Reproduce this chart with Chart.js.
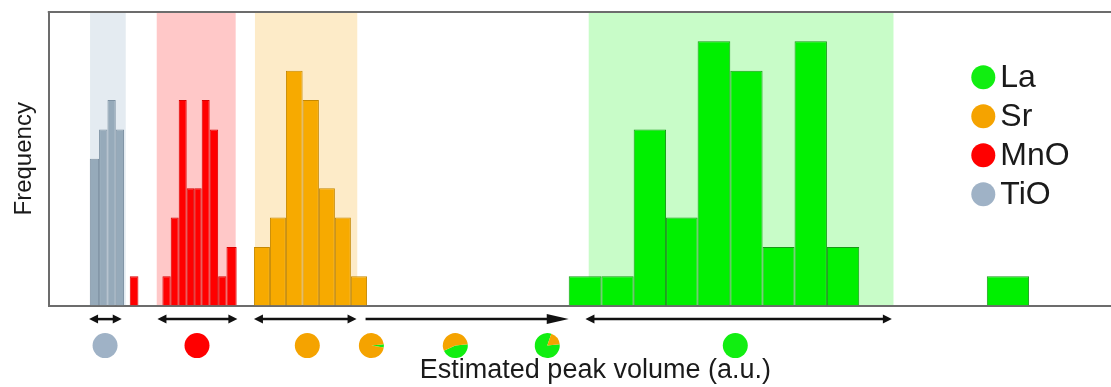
<!DOCTYPE html>
<html>
<head>
<meta charset="utf-8">
<script src="https://cdn.jsdelivr.net/npm/chart.js@4.4.1/dist/chart.umd.min.js"></script>
<style>
  html, body { margin: 0; padding: 0; background: #fff; overflow: hidden; }
  #wrap { width: 1142px; height: 387px; }
</style>
</head>
<body>
<div id="wrap"><canvas id="chart"></canvas></div>
<script>
// histogram bins: edges in a.u. of estimated peak volume, counts per bin
const species = ["TiO", "MnO", "Sr", "La"];
const tioEdges = [4.10, 5.03, 5.87, 6.70, 7.53];
const tioCounts = [5, 6, 7, 6];
const mnoEdges = [8.10, 8.97, 11.37, 12.20, 13.00, 13.80, 14.55, 15.30, 16.10, 16.95, 17.78, 18.80];
const mnoCounts = [1, 0, 1, 3, 7, 4, 4, 7, 6, 1, 2];
const srEdges = [20.53, 22.13, 23.73, 25.40, 27.03, 28.63, 30.23, 31.85];
const srCounts = [2, 3, 8, 7, 4, 3, 1];
const laEdges = [52.03, 55.30, 58.53, 61.77, 64.93, 68.20, 71.43, 74.63, 77.87, 81.10, 93.87, 98.10];
const laCounts = [1, 1, 6, 3, 9, 8, 2, 9, 2, 0, 1];

// shaded ranges (one per species) and arrows under the axis
const bandStart = [4.13, 10.80, 20.63, 54.03];
const bandEnd = [7.70, 18.70, 30.87, 84.53];
const arrowStart = [4.03, 10.87, 20.53, 31.70, 53.70];
const arrowEnd = [7.30, 18.87, 30.80, 52.03, 84.37];
const arrowBothEnds = [true, true, true, false, true];

// composition pies under the axis
const pieAt = [5.63, 14.83, 25.87, 32.28, 40.68, 49.88, 68.70];
const pieTiO = [1, 0, 0, 0, 0, 0, 0];
const pieMnO = [0, 1, 0, 0, 0, 0, 0];
const pieSr = [0, 0, 1, 0.96, 0.55, 0.18, 0];
const pieLa = [0, 0, 0, 0.04, 0.45, 0.82, 1];

const FONT = "'Liberation Sans', Arial, Helvetica, sans-serif";
const TEXT = "#1a1a1a";
const FRAME = "#6c6c6c";
const fills = { TiO: "#96aaba", MnO: "#ff0000", Sr: "#f7aa00", La: "#00f000" };
const borders = { TiO: "#7d91a2", MnO: "#d80000", Sr: "#c58800", La: "#169a16" };
const bandColors = ["#e4ebf1", "#ffc8c8", "#fdebc8", "#c8fcc8"];
const dotColors = { TiO: "#9fb2c6", MnO: "#ff0000", Sr: "#f5a300", La: "#11ee11" };

function bins(edges, counts) {
  const out = [];
  counts.forEach((c, i) => {
    if (c > 0) out.push({ x: (edges[i] + edges[i + 1]) / 2, y: c, x0: edges[i], x1: edges[i + 1] });
  });
  return out;
}

const series = {
  TiO: bins(tioEdges, tioCounts),
  MnO: bins(mnoEdges, mnoCounts),
  Sr: bins(srEdges, srCounts),
  La: bins(laEdges, laCounts),
};

// bars span their own bin edges on the linear x scale
const binWidths = {
  id: "binWidths",
  afterDatasetsUpdate(chart) {
    const x = chart.scales.x;
    chart.data.datasets.forEach((ds, d) => {
      chart.getDatasetMeta(d).data.forEach((bar, i) => {
        const bin = ds.data[i];
        const left = x.getPixelForValue(bin.x0);
        const right = x.getPixelForValue(bin.x1);
        bar.x = (left + right) / 2;
        bar.width = right - left;
      });
    });
  },
};

const bands = {
  id: "bands",
  beforeDraw(chart) {
    const { ctx, chartArea } = chart;
    const x = chart.scales.x;
    ctx.save();
    bandStart.forEach((s, i) => {
      const l = x.getPixelForValue(s);
      const r = x.getPixelForValue(bandEnd[i]);
      ctx.fillStyle = bandColors[i];
      ctx.fillRect(l, chartArea.top, r - l, chartArea.bottom - chartArea.top);
    });
    ctx.restore();
  },
};

function head(ctx, tipX, y, dir, len, half) {
  ctx.beginPath();
  ctx.moveTo(tipX, y);
  ctx.lineTo(tipX - dir * len, y - half);
  ctx.lineTo(tipX - dir * len, y + half);
  ctx.closePath();
  ctx.fill();
}

const annotations = {
  id: "annotations",
  afterDraw(chart) {
    const { ctx, chartArea } = chart;
    const x = chart.scales.x;
    ctx.save();

    // top frame line
    ctx.strokeStyle = FRAME;
    ctx.lineWidth = 2;
    ctx.beginPath();
    ctx.moveTo(chartArea.left - 1, chartArea.top);
    ctx.lineTo(chartArea.right, chartArea.top);
    ctx.stroke();

    // arrows
    const ay = chartArea.bottom + 13.5;
    ctx.strokeStyle = "#111";
    ctx.fillStyle = "#111";
    ctx.lineWidth = 2.5;
    arrowStart.forEach((s, i) => {
      const a = x.getPixelForValue(s);
      const b = x.getPixelForValue(arrowEnd[i]);
      const both = arrowBothEnds[i];
      const len = both ? 9 : 22;
      const half = both ? 4.5 : 5;
      ctx.beginPath();
      ctx.moveTo(both ? a + len - 1 : a, ay);
      ctx.lineTo(b - len + 1, ay);
      ctx.stroke();
      head(ctx, b, ay, 1, len, half);
      if (both) head(ctx, a, ay, -1, len, half);
    });

    // pies
    const py = chartArea.bottom + 40;
    const r = 12.5;
    pieAt.forEach((p, i) => {
      const cx = x.getPixelForValue(p);
      const shares = [["La", pieLa[i]], ["Sr", pieSr[i]], ["MnO", pieMnO[i]], ["TiO", pieTiO[i]]];
      let ang = -6 * Math.PI / 180;
      shares.forEach(([name, f]) => {
        if (f <= 0) return;
        const end = ang + f * 2 * Math.PI;
        ctx.fillStyle = dotColors[name];
        ctx.beginPath();
        if (f >= 1) {
          ctx.arc(cx, py, r, 0, 2 * Math.PI);
        } else {
          ctx.moveTo(cx, py);
          ctx.arc(cx, py, r, ang, end);
          ctx.closePath();
        }
        ctx.fill();
        ang = end;
      });
    });

    // legend
    const lx = chartArea.left + 934.5;
    let ly = chartArea.top + 65.3;
    ctx.font = "32px " + FONT;
    ctx.textBaseline = "middle";
    ctx.textAlign = "left";
    species.slice().reverse().forEach((name) => {
      ctx.fillStyle = dotColors[name];
      ctx.beginPath();
      ctx.arc(lx, ly, 12, 0, 2 * Math.PI);
      ctx.fill();
      ctx.fillStyle = TEXT;
      ctx.fillText(name, lx + 17, ly + 1);
      ly += 39;
    });

    ctx.restore();
  },
};

new Chart(document.getElementById("chart"), {
  type: "bar",
  data: {
    datasets: species.map((name) => ({
      label: name,
      data: series[name],
      backgroundColor: fills[name],
      borderColor: borders[name],
      borderWidth: 1,
      borderSkipped: "start",
      grouped: false,
    })),
  },
  plugins: [binWidths, bands, annotations],
  options: {
    responsive: true,
    maintainAspectRatio: false,
    animation: false,
    events: [],
    layout: { padding: { left: 6, top: 12, right: 0, bottom: 0 } },
    plugins: {
      legend: { display: false },
      tooltip: { enabled: false },
    },
    scales: {
      x: {
        type: "linear",
        offset: false,
        min: 0,
        max: 109.4,
        grid: { display: false, drawTicks: false, offset: false },
        ticks: { display: false },
        border: { display: true, color: FRAME, width: 2 },
        title: {
          display: true,
          text: "Estimated peak volume (a.u.)",
          color: TEXT,
          font: { family: FONT, size: 27 },
          padding: { top: 49, bottom: 0 },
        },
      },
      y: {
        min: 0,
        max: 10,
        grid: { display: false, drawTicks: false },
        ticks: { display: false },
        border: { display: true, color: FRAME, width: 2 },
        title: {
          display: true,
          text: "Frequency",
          color: TEXT,
          font: { family: FONT, size: 24 },
          padding: { top: 4, bottom: 10 },
        },
      },
    },
  },
});
</script>
</body>
</html>
